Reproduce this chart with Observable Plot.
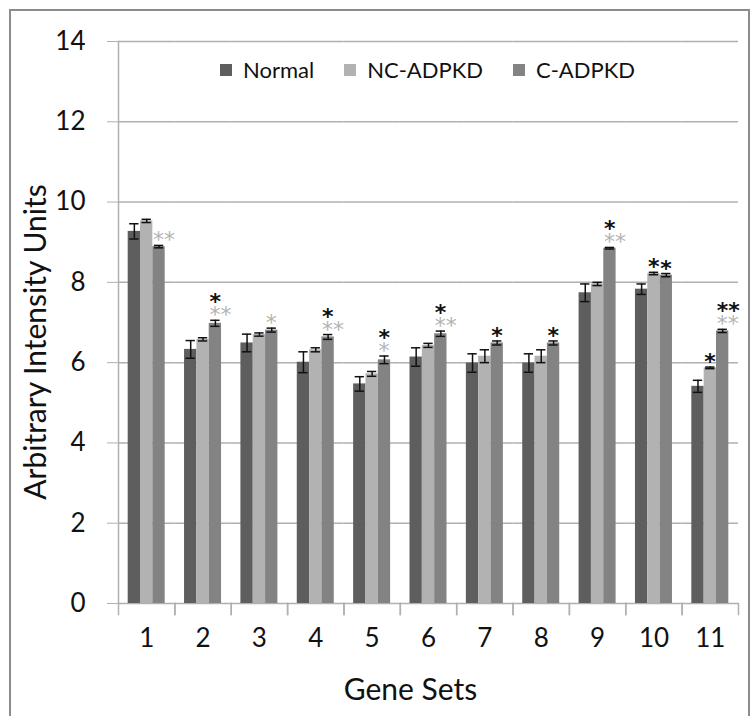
<!DOCTYPE html>
<html><head><meta charset="utf-8">
<script src="https://cdn.jsdelivr.net/npm/d3@7"></script>
<script src="https://cdn.jsdelivr.net/npm/@observablehq/plot@0.6"></script>
<style>
body{margin:0;background:#fff;font-family:Lato,sans-serif;}
#wrap{position:relative;width:751px;height:716px;overflow:hidden;background:#fff;}
#chart{position:absolute;left:0;top:0;}
#border{position:absolute;left:9px;top:9px;width:737px;height:720px;border:2px solid #8c8c8c;pointer-events:none;}
#legend{position:absolute;left:220px;top:56px;display:flex;align-items:center;font-size:22px;color:#111;font-family:Lato,sans-serif;}
.item{display:flex;align-items:center;margin-right:30px;}
.sw{width:12px;height:12px;margin-right:11px;}
</style></head><body>
<div id="wrap"><div id="chart"></div><div id="legend"></div><div id="border"></div></div>
<script>
const geneSets = ["1","2","3","4","5","6","7","8","9","10","11"];
const seriesNames = ["Normal","NC-ADPKD","C-ADPKD"];
const seriesColors = ["#5e5e5e","#b2b2b2","#838383"];
const normalValues = [9.27, 6.33, 6.49, 6.01, 5.47, 6.14, 5.99, 5.99, 7.74, 7.83, 5.41];
const normalErr    = [0.19, 0.22, 0.22, 0.26, 0.18, 0.23, 0.23, 0.23, 0.22, 0.13, 0.15];
const ncValues     = [9.53, 6.58, 6.70, 6.32, 5.72, 6.43, 6.16, 6.16, 7.96, 8.22, 5.87];
const ncErr        = [0.04, 0.04, 0.04, 0.05, 0.06, 0.05, 0.16, 0.16, 0.04, 0.03, 0.02];
const cValues      = [8.89, 6.98, 6.81, 6.64, 6.07, 6.72, 6.49, 6.49, 8.85, 8.18, 6.79];
const cErr         = [0.03, 0.075, 0.05, 0.06, 0.095, 0.066, 0.05, 0.05, 0.02, 0.04, 0.04];
const yTicks = [0, 2, 4, 6, 8, 10, 12, 14];
const yLabel = "Arbitrary Intensity Units";
const xLabel = "Gene Sets";

// significance marks
const sigGene   = ["1","2","2","3","4","4","5","5","6","6","7","8","9","9","10","10","11","11","11"];
const sigSeries = ["C-ADPKD","C-ADPKD","C-ADPKD","C-ADPKD","C-ADPKD","C-ADPKD","C-ADPKD","C-ADPKD","C-ADPKD","C-ADPKD","C-ADPKD","C-ADPKD","C-ADPKD","C-ADPKD","NC-ADPKD","C-ADPKD","NC-ADPKD","C-ADPKD","C-ADPKD"];
const sigText   = ["**","**","*","*","**","*","*","*","**","*","*","*","**","*","*","*","*","**","**"];
const sigTone   = ["grey","grey","black","grey","grey","black","grey","black","grey","black","black","black","grey","black","black","black","black","grey","black"];
const sigRow    = [0,0,1,0,0,1,0,1,0,1,0,0,0,1,0,0,0,0,1];

const valuesBySeries = [normalValues, ncValues, cValues];
const errBySeries = [normalErr, ncErr, cErr];
const rows = geneSets.flatMap((g, i) => seriesNames.map((s, j) => ({
  gene: g, series: s, value: valuesBySeries[j][i], err: errBySeries[j][i]
})));
const topOf = (g, s) => { const r = rows.find(d => d.gene === g && d.series === s); return r.value + r.err; };
const sig = sigGene.map((g, k) => ({gene: g, series: sigSeries[k], label: sigText[k], tone: sigTone[k], row: sigRow[k], top: topOf(g, sigSeries[k])}));

const gridColor = "#b0b0b0";
const sigMark = (row, tone) => Plot.text(sig.filter(d => d.row === row && d.tone === tone), {
  fx: "gene", x: "series", y: "top", text: "label",
  textAnchor: "start", lineAnchor: "middle", dx: -6, dy: row === 0 ? -5 : -18,
  fontFamily: "DejaVu Sans", fontSize: 22, fontWeight: tone === "black" ? "bold" : "normal",
  fill: tone === "black" ? "#111" : "#b3b3b3"
});

const chart = Plot.plot({
  width: 751, height: 716,
  marginLeft: 118, marginRight: 13, marginTop: 41, marginBottom: 102,
  style: {fontFamily: "Lato, sans-serif", background: "transparent", color: "#111"},
  fx: {domain: geneSets, paddingInner: 0, paddingOuter: 0, round: false, axis: null},
  x: {domain: seriesNames, paddingInner: 0, paddingOuter: 0.785, round: false, axis: null},
  y: {domain: [0, 14], range: [603, 41], axis: null},
  color: {domain: seriesNames, range: seriesColors},
  marks: [
    Plot.gridY(yTicks.slice(1), {stroke: gridColor, strokeOpacity: 1, strokeWidth: 1.5}),
    Plot.ruleY([0], {stroke: gridColor, strokeWidth: 1.5}),
    Plot.frame({anchor: "left", insetTop: 562, stroke: gridColor, strokeWidth: 1.5}),
    Plot.frame({anchor: "right", insetTop: 562, stroke: gridColor, strokeWidth: 1.5}),
    Plot.frame({anchor: "left", facetAnchor: "left", insetBottom: 11, stroke: gridColor, strokeWidth: 1.5}),
    Plot.barY(rows, {fx: "gene", x: "series", y: "value", fill: "series"}),
    Plot.ruleX(rows, {fx: "gene", x: "series", y1: d => d.value - d.err, y2: d => d.value + d.err, stroke: "#111", strokeWidth: 1.5}),
    Plot.tickY(rows, {fx: "gene", x: "series", y: d => d.value - d.err, stroke: "#111", strokeWidth: 1.5, insetLeft: 1.5, insetRight: 1.5}),
    Plot.tickY(rows, {fx: "gene", x: "series", y: d => d.value + d.err, stroke: "#111", strokeWidth: 1.5, insetLeft: 1.5, insetRight: 1.5}),
    sigMark(0, "grey"), sigMark(0, "black"), sigMark(1, "grey"), sigMark(1, "black"),
    Plot.axisY(yTicks, {anchor: "left", tickSize: 11, tickPadding: 22, fontSize: 26, stroke: gridColor, fill: "#111", label: null}),
    Plot.text([yLabel], {frameAnchor: "left", facetAnchor: "left", rotate: -90, textAnchor: "middle", lineAnchor: "top",
      dx: -94, dy: 14, fontSize: 30, fill: "#111"}),
    Plot.axisFx({anchor: "bottom", tickSize: 0, tickPadding: 14, fontSize: 26, fill: "#111", label: null}),
    Plot.text([xLabel], {fx: () => "6", frameAnchor: "bottom", textAnchor: "middle", lineAnchor: "bottom",
      dx: -18, dy: 85, fontSize: 30, fill: "#111"})
  ]
});
document.getElementById("chart").appendChild(chart);

const legend = document.getElementById("legend");
seriesNames.forEach((s, i) => {
  const item = document.createElement("div"); item.className = "item";
  const sw = document.createElement("div"); sw.className = "sw"; sw.style.background = seriesColors[i];
  const t = document.createElement("span"); t.textContent = s;
  item.appendChild(sw); item.appendChild(t); legend.appendChild(item);
});
</script>
</body></html>
